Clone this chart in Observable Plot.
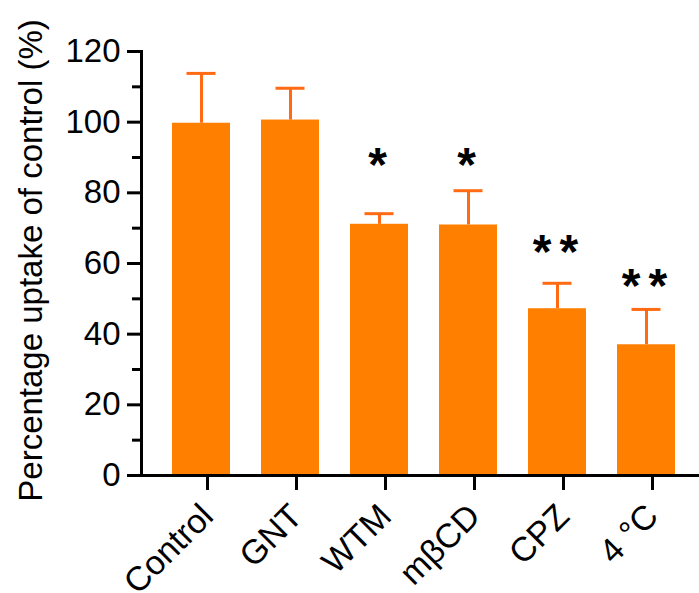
<!DOCTYPE html>
<html>
<head>
<meta charset="utf-8">
<script src="https://cdn.jsdelivr.net/npm/d3@7"></script>
<script src="https://cdn.jsdelivr.net/npm/@observablehq/plot@0.6"></script>
<style>
  html, body { margin: 0; padding: 0; background: #fff; }
  g[font-weight="bold"] text { letter-spacing: 8px; }
</style>
</head>
<body>
<div id="chart"></div>
<script>
const categories = ["Control", "GNT", "WTM", "mβCD", "CPZ", "4 °C"];
const means = [99.7, 100.6, 71.1, 70.9, 47.2, 37.0];
const errors = [14.1, 9.0, 3.0, 9.7, 7.2, 10.0];
const stars = ["", "", "*", "*", "**", "**"];
const starY = [null, null, 89.6, 89.6, 65.0, 55.4];
const yMajorTicks = [0, 20, 40, 60, 80, 100, 120];
const yMinorTicks = [10, 30, 50, 70, 90, 110];

const data = categories.map((c, i) => ({
  cat: c, mean: means[i], top: means[i] + errors[i], star: stars[i], starY: starY[i]
}));

const barColor = "#ff8000";
const errColor = "#ff6a13";

const chart = Plot.plot({
  width: 699,
  height: 593,
  marginLeft: 141,
  marginRight: 0,
  marginTop: 51,
  marginBottom: 118,
  style: { fontFamily: "'Liberation Sans', Arial, sans-serif", fontSize: "32px", color: "#000", background: "#fff" },
  x: { domain: categories, paddingInner: 0.35, paddingOuter: 0.3, align: 0.56, label: null },
  y: { domain: [0, 120], label: null },
  marks: [
    Plot.barY(data, { x: "cat", y: "mean", fill: barColor }),
    Plot.ruleX(data, { x: "cat", y1: "mean", y2: "top", stroke: errColor, strokeWidth: 3 }),
    Plot.tickY(data, { x: "cat", y: "top", stroke: errColor, strokeWidth: 3, insetLeft: 14.5, insetRight: 14.5 }),
    Plot.text(data.filter(d => d.star), { x: "cat", y: "starY", text: "star", fontSize: 48, fontWeight: "bold", lineAnchor: "middle", dy: 7, dx: 2, fill: "#000" }),
    Plot.axisY(yMajorTicks, { tickSize: 14, tickPadding: 7, strokeWidth: 3, fontSize: 33, label: null, stroke: "#000" }),
    Plot.axisY(yMinorTicks, { tickSize: 9, strokeWidth: 3, tickFormat: () => "", label: null, stroke: "#000" }),
    Plot.axisX({ tickSize: 15, strokeWidth: 3, tickRotate: -45, fontSize: 34, label: null, tickPadding: 20, dx: 6, stroke: "#000" }),
    Plot.frame({ anchor: "left", stroke: "#000", strokeWidth: 3 }),
    Plot.ruleY([0], { stroke: "#000", strokeWidth: 3 }),
    Plot.text(["Percentage uptake of control (%)"], { frameAnchor: "left", textAnchor: "middle", rotate: -90, dx: -110, dy: -3, fontSize: 33, fill: "#000", lineAnchor: "middle" })
  ]
});
document.getElementById("chart").appendChild(chart);
</script>
</body>
</html>
